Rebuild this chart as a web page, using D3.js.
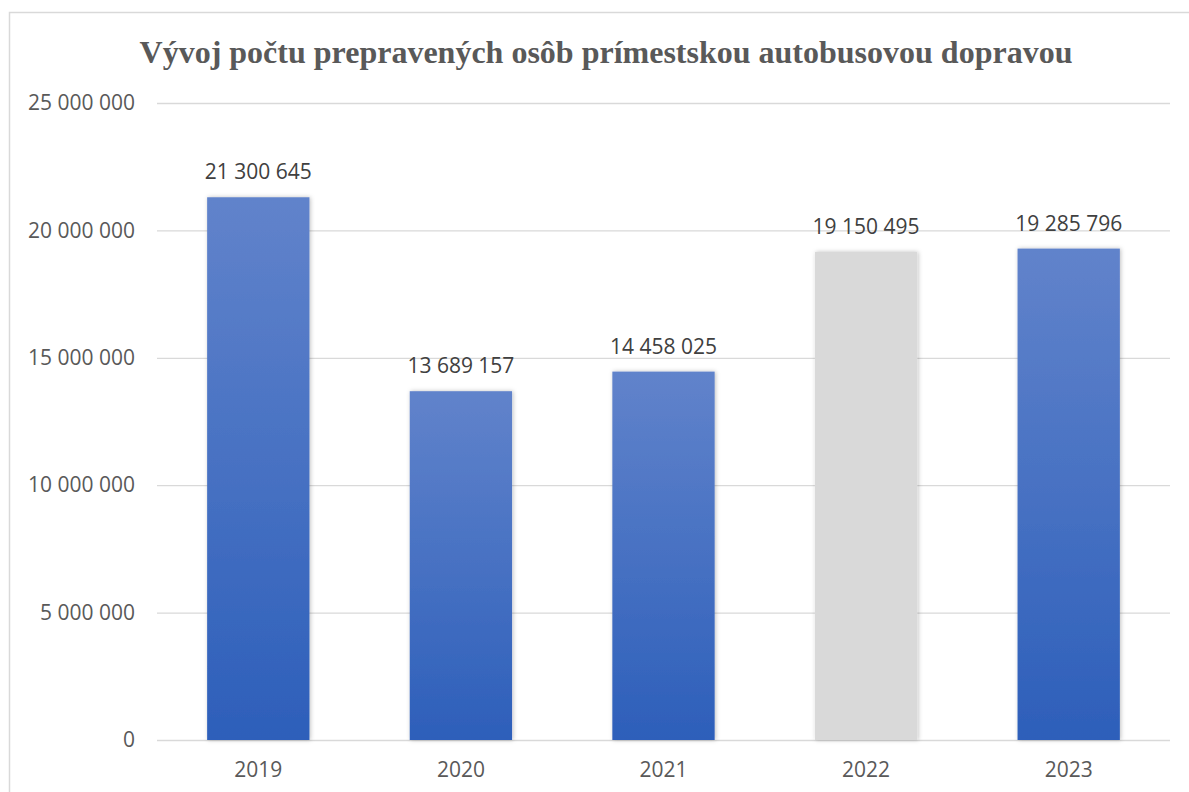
<!DOCTYPE html>
<html>
<head>
<meta charset="utf-8">
<script src="https://cdn.jsdelivr.net/npm/d3@7"></script>
<style>
  body { margin: 0; background: #fff; }
  svg { display: block; }
</style>
</head>
<body>
<div id="chart"></div>
<script>
const years = ["2019", "2020", "2021", "2022", "2023"];
const passengers = [21300645, 13689157, 14458025, 19150495, 19285796];
const greyYears = ["2022"];
const yTicks = [0, 5000000, 10000000, 15000000, 20000000, 25000000];

const width = 1189, height = 792;
const margin = { top: 103, right: 19, bottom: 52, left: 157 };

const svg = d3.select("#chart").append("svg")
  .attr("width", width)
  .attr("height", height);

const defs = svg.append("defs");
const grad = defs.append("linearGradient")
  .attr("id", "blueGrad")
  .attr("x1", 0).attr("y1", 0).attr("x2", 0).attr("y2", 1);
grad.append("stop").attr("offset", "0%").attr("stop-color", "#6183cb");
grad.append("stop").attr("offset", "100%").attr("stop-color", "#2d5fba");

const shadow = defs.append("filter").attr("id", "shadow")
  .attr("x", "-10%").attr("y", "-10%").attr("width", "130%").attr("height", "120%");
shadow.append("feDropShadow")
  .attr("dx", 1).attr("dy", 0).attr("stdDeviation", 2)
  .attr("flood-color", "#000").attr("flood-opacity", 0.25);

// chart border
svg.append("rect")
  .attr("x", 9.5).attr("y", 12.5)
  .attr("width", 1200).attr("height", 800)
  .attr("fill", "none")
  .attr("stroke", "#d9d9d9")
  .attr("stroke-width", 1.5);

svg.append("text")
  .attr("x", 606)
  .attr("y", 63)
  .attr("text-anchor", "middle")
  .attr("font-family", "'Liberation Serif', 'Times New Roman', serif")
  .attr("font-weight", "bold")
  .attr("font-size", 32)
  .attr("fill", "#595959")
  .text("Vývoj počtu prepravených osôb prímestskou autobusovou dopravou");

const x = d3.scaleBand()
  .domain(years)
  .range([margin.left, width - margin.right])
  .paddingInner(0.495)
  .paddingOuter(0.2475);

const y = d3.scaleLinear()
  .domain([0, 25000000])
  .range([height - margin.bottom, margin.top]);

const fmt = v => d3.format(",")(v).replace(/,/g, " ");

const grid = svg.append("g")
  .attr("class", "grid")
  .attr("transform", `translate(${margin.left},0)`)
  .call(d3.axisLeft(y).tickValues(yTicks).tickSize(-(width - margin.left - margin.right)).tickFormat(""));
grid.select(".domain").remove();
grid.selectAll("line").attr("stroke", "#d9d9d9").attr("stroke-width", 1.3);

const yAxis = svg.append("g")
  .attr("transform", `translate(${margin.left - 22},0)`)
  .call(d3.axisLeft(y).tickValues(yTicks).tickSize(0).tickPadding(0).tickFormat(fmt));
yAxis.select(".domain").remove();
yAxis.selectAll("text")
  .attr("font-family", "'Open Sans', 'Liberation Sans', sans-serif")
  .attr("font-size", 21)
  .attr("fill", "#595959");

const xAxis = svg.append("g")
  .attr("transform", `translate(0,${height - margin.bottom})`)
  .call(d3.axisBottom(x).tickSize(0).tickPadding(22));
xAxis.select(".domain").remove();
xAxis.selectAll("text")
  .attr("font-family", "'Open Sans', 'Liberation Sans', sans-serif")
  .attr("font-size", 21)
  .attr("fill", "#595959");

svg.append("g")
  .selectAll("rect")
  .data(years)
  .join("rect")
  .attr("x", (d) => x(d))
  .attr("y", (d, i) => y(passengers[i]))
  .attr("width", x.bandwidth())
  .attr("height", (d, i) => y(0) - y(passengers[i]))
  .attr("fill", d => greyYears.includes(d) ? "#d9d9d9" : "url(#blueGrad)")
  .attr("filter", "url(#shadow)");

svg.append("g")
  .selectAll("text")
  .data(years)
  .join("text")
  .attr("x", d => x(d) + x.bandwidth() / 2)
  .attr("y", (d, i) => y(passengers[i]) - 18)
  .attr("text-anchor", "middle")
  .attr("font-family", "'Open Sans', 'Liberation Sans', sans-serif")
  .attr("font-size", 21)
  .attr("fill", "#404040")
  .text((d, i) => fmt(passengers[i]));
</script>
</body>
</html>
